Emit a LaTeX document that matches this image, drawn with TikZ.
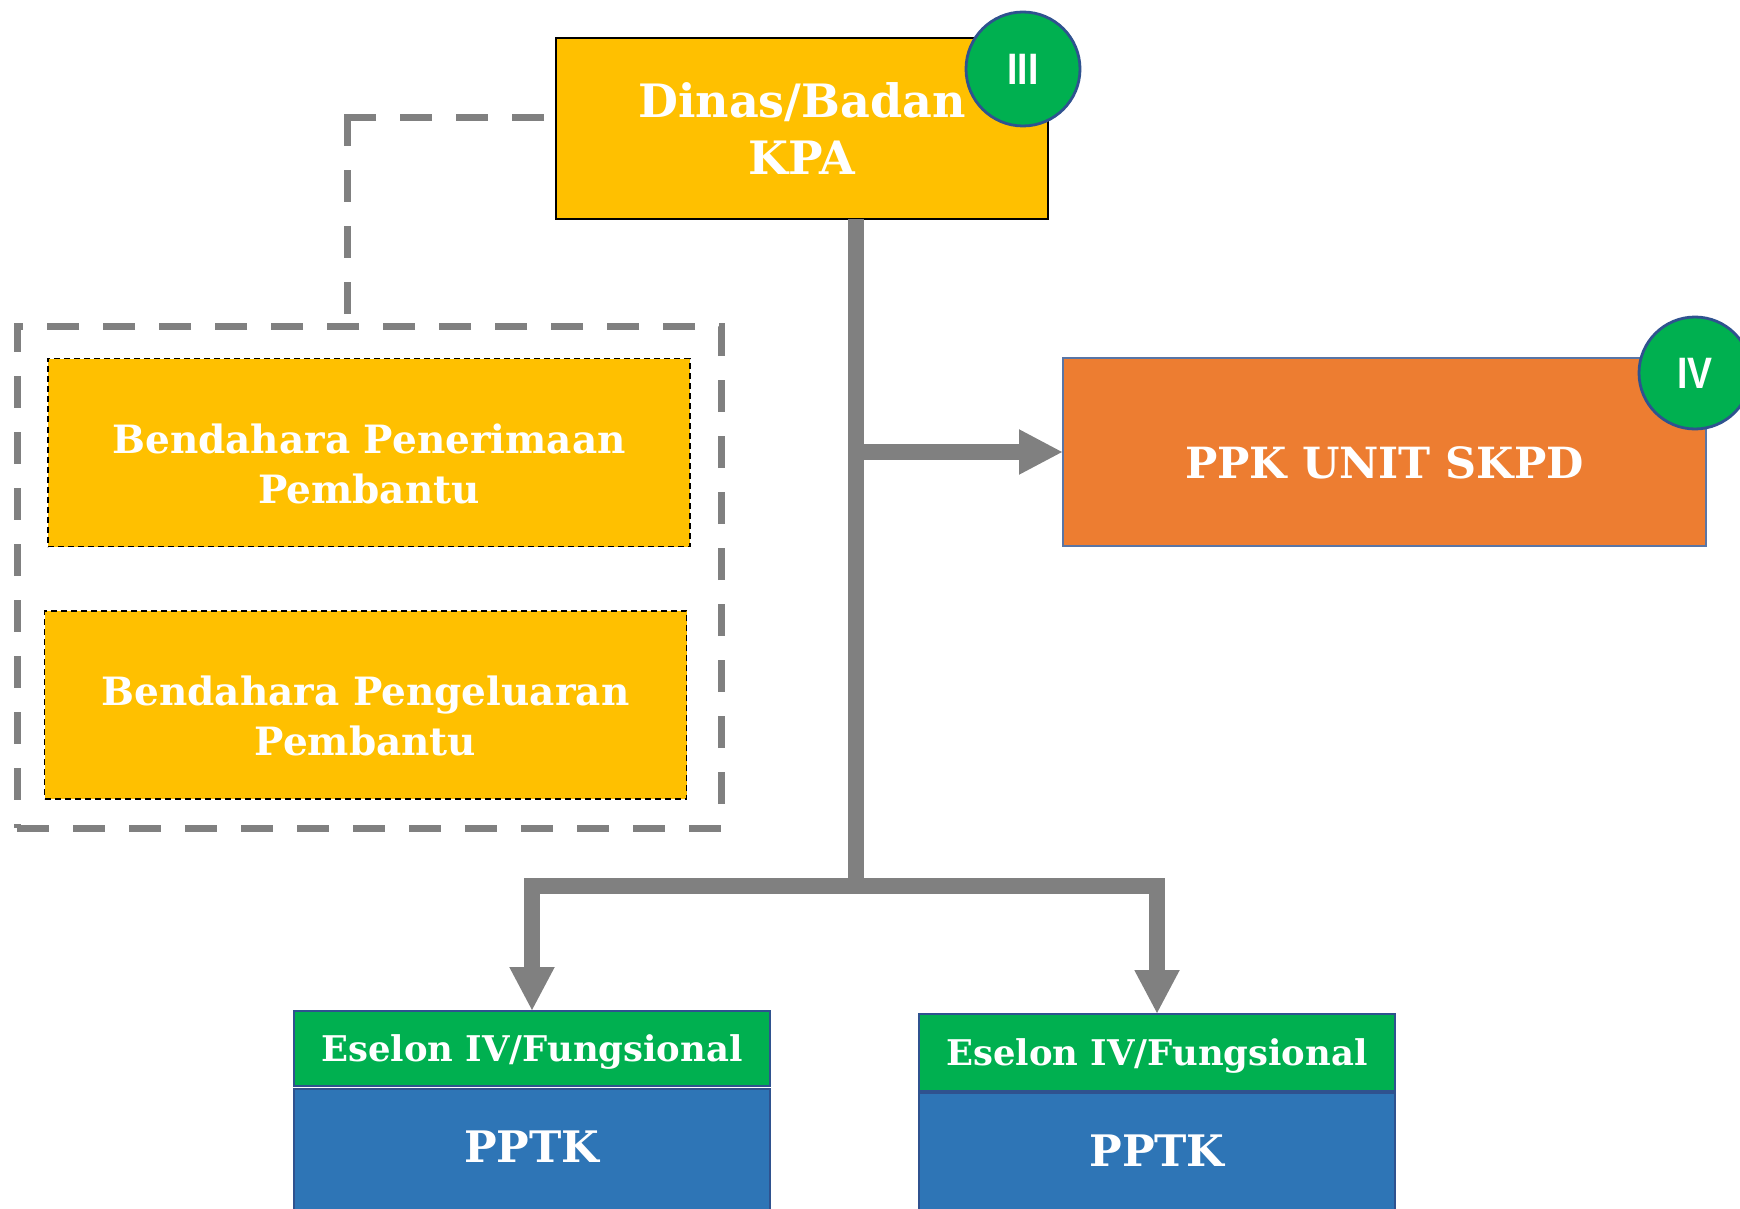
\documentclass[tikz,border=0pt]{standalone}
\usepackage{fontspec}
\setmainfont{DejaVu Serif}
\newfontfamily\circfont{Liberation Sans}
\usetikzlibrary{arrows.meta,calc}
\definecolor{gold}{HTML}{FFC000}
\definecolor{orng}{HTML}{ED7D31}
\definecolor{grn}{HTML}{00B050}
\definecolor{blu}{HTML}{2E75B6}
\definecolor{gry}{HTML}{808080}
\definecolor{edge}{HTML}{2F528F}
\tikzset{
  every node/.style={inner sep=0pt, outer sep=0pt},
  boxtxt/.style={text=white, font=\bfseries, align=center},
  topbox/.style={rectangle, fill=gold, draw=black, line width=1pt, boxtxt, font=\fontsize{23}{28.5}\selectfont\bfseries},
  bendbox/.style={rectangle, fill=gold, draw=black, line width=0.9pt, dash pattern=on 3pt off 2pt, minimum width=321pt, minimum height=94pt},
  bendtxt/.style={boxtxt, font=\fontsize{19.5}{25}\selectfont\bfseries, yshift=-5.5pt},
  grpbox/.style={rectangle, draw=gry, line width=3.5pt, dash pattern=on 16pt off 12pt, minimum width=352pt, minimum height=251pt},
  ppkbox/.style={rectangle, fill=orng, draw=edge!80, line width=0.8pt, minimum width=321.5pt, minimum height=94pt},
  ppktxt/.style={boxtxt, font=\fontsize{21.5}{26}\selectfont\bfseries, yshift=-5.5pt},
  eselon/.style={rectangle, fill=grn, draw=edge, line width=0.9pt, minimum width=238pt},
  eseltxt/.style={boxtxt, font=\fontsize{17.7}{22}\selectfont\bfseries, yshift=-1.7pt},
  pptk/.style={rectangle, fill=blu, draw=edge, line width=0.9pt, minimum width=238pt, minimum height=75.5pt},
  pptktxt/.style={boxtxt, font=\fontsize{21.7}{26}\selectfont\bfseries, yshift=8.75pt},
  badge/.style={circle, fill=grn, draw=edge, line width=1.4pt, text=white, font=\circfont\bfseries\fontsize{22}{22}\selectfont},
  conn/.style={draw=gry, line width=7.75pt, line join=miter},
  tipped/.style={conn, -{Triangle[length=22pt, width=21pt]}},
  dashconn/.style={draw=gry, line width=3.5pt, dash pattern=on 16pt off 12pt}
}
\begin{document}
\begin{tikzpicture}[x=0.5pt, y=-0.5pt]
\clip (0,0) rectangle (1740,1209);
\fill[white] (0,0) rectangle (1740,1209);

% nodes
\node[topbox, minimum width=246pt, minimum height=90.5pt] (dinas) at (802,128.5) {Dinas/Badan\\KPA};
\node[badge, minimum size=57pt] (c3) at (1023,69) {\scalebox{0.85}[1]{III}};

\node[grpbox] (grp) at (369,577) {};
\node[bendbox, label={[bendtxt]center:{Bendahara Penerimaan\\Pembantu}}] (b1) at (369,452.5) {};
\node[bendbox, label={[bendtxt]center:{Bendahara Pengeluaran\\Pembantu}}] (b2) at (365.5,705) {};

\node[ppkbox, label={[ppktxt]center:{PPK UNIT SKPD}}] (ppk) at (1384.5,452) {};
\node[badge, minimum size=56pt] (c4) at (1695,373) {\scalebox{0.85}[1]{IV}};

\node[pptk, label={[pptktxt]center:{PPTK}}] (p1) at (532,1164.5) {};
\node[eselon, minimum height=37.5pt, label={[eseltxt]center:{Eselon IV/Fungsional}}] (e1) at (532,1048.5) {};
\node[pptk, label={[pptktxt]center:{PPTK}}] (p2) at (1157,1168.5) {};
\node[eselon, minimum height=38.5pt, label={[eseltxt]center:{Eselon IV/Fungsional}}] (e2) at (1157,1052.5) {};

% helper coordinates
\coordinate (tr) at (856,886);
\coordinate (dl) at ($(dinas.west)+(-12,-10.5)$);
\coordinate (gend) at (347,314);
\coordinate (dcorner) at (dl -| gend);

% connectors
\draw[conn] (dinas.south -| tr) -- (tr);
\draw[tipped] (tr |- ppk.west) -- (ppk.west);
\draw[tipped] (tr) -| (e1.north);
\draw[tipped] (tr) -| (e2.north);
\draw[dashconn] (dl) -- ($(dcorner)+(-3.5,0)$);
\draw[dashconn] (gend) -- ($(dcorner)+(0,-3.5)$);
\end{tikzpicture}
\end{document}
